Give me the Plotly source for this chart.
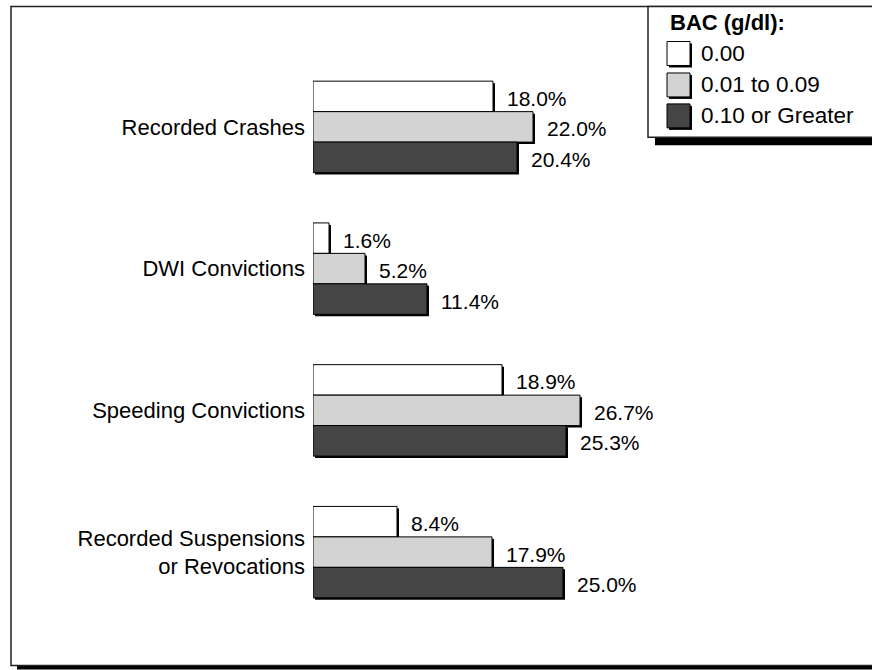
import plotly.graph_objects as go

# ---- data ----
categories = ["Recorded Crashes", "DWI Convictions", "Speeding Convictions",
              "Recorded Suspensions<br>or Revocations"]
series_names = ["0.00", "0.01 to 0.09", "0.10 or Greater"]
bac_000 = [18.0, 1.6, 18.9, 8.4]
bac_001_009 = [22.0, 5.2, 26.7, 17.9]
bac_010_plus = [20.4, 11.4, 25.3, 25.0]
legend_title = "BAC (g/dl):"

series_values = [bac_000, bac_001_009, bac_010_plus]
colors = ["#FFFFFF", "#D3D3D3", "#454545"]

FONT = "Liberation Sans, Arial, sans-serif"
W, H = 872, 670
ML, MR, MT, MB = 313, 9, 55.5, 46.5
XMAX = 55.0
plot_w = W - ML - MR
plot_h = H - MT - MB

bw = 0.215
offsets = [-1.5 * bw, -0.5 * bw, 0.5 * bw]
ypos = list(range(len(categories)))
sx = 2 * XMAX / plot_w          # 2px in x data units
sy = 2 * 4.0 / plot_h           # 2px in y data units

fig = go.Figure()

# shadows
for vals, off in zip(series_values, offsets):
    fig.add_trace(go.Bar(
        y=ypos, x=vals, base=sx, orientation="h",
        offset=off + sy, width=bw,
        marker=dict(color="#000000", line=dict(width=0)),
        showlegend=False, hoverinfo="skip"))

# bars
for name, vals, off, col in zip(series_names, series_values, offsets, colors):
    fig.add_trace(go.Bar(
        y=ypos, x=vals, orientation="h", name=name,
        offset=off, width=bw,
        marker=dict(color=col, line=dict(color="#000000", width=1)),
        showlegend=False))

annotations = []
for vals, off in zip(series_values, offsets):
    for i, v in enumerate(vals):
        annotations.append(dict(
            x=v, y=i + off + bw / 2, xref="x", yref="y",
            text=f"{v:.1f}%", showarrow=False, xanchor="left", yanchor="middle",
            xshift=12, yshift=-2, font=dict(size=21, color="black", family=FONT)))


def px(x):
    return (x - ML) / plot_w


def py(y):
    return (H - MB - y) / plot_h


shapes = []
# outer frame + shadow
shapes.append(dict(type="rect", xref="paper", yref="paper",
                   x0=px(17), x1=px(900), y0=py(666), y1=py(670),
                   fillcolor="black", line=dict(width=0), layer="below"))
shapes.append(dict(type="rect", xref="paper", yref="paper",
                   x0=px(11), x1=px(895), y0=py(666), y1=py(6),
                   fillcolor="rgba(0,0,0,0)", line=dict(color="#222", width=1.5), layer="below"))
# legend box + shadow
shapes.append(dict(type="rect", xref="paper", yref="paper",
                   x0=px(655), x1=px(900), y0=py(145), y1=py(137),
                   fillcolor="black", line=dict(width=0)))
shapes.append(dict(type="rect", xref="paper", yref="paper",
                   x0=px(648), x1=px(895), y0=py(137), y1=py(6),
                   fillcolor="white", line=dict(color="#222", width=1.5)))

item_centers = [53, 84.5, 115.5]
for name, col, yc in zip(series_names, colors, item_centers):
    shapes.append(dict(type="rect", xref="paper", yref="paper",
                       x0=px(669), x1=px(692), y0=py(yc + 14), y1=py(yc - 10),
                       fillcolor="black", line=dict(width=0)))
    shapes.append(dict(type="rect", xref="paper", yref="paper",
                       x0=px(667), x1=px(690), y0=py(yc + 12), y1=py(yc - 12),
                       fillcolor=col, line=dict(color="black", width=1)))
    annotations.append(dict(x=px(699), y=py(yc), xref="paper", yref="paper",
                            text=name, showarrow=False, xanchor="left", yanchor="middle",
                            font=dict(size=22.5, color="black", family=FONT)))

annotations.append(dict(x=px(668), y=py(22), xref="paper", yref="paper",
                        text=f"<b>{legend_title}</b>", showarrow=False,
                        xanchor="left", yanchor="middle",
                        font=dict(size=22, color="black", family=FONT)))

fig.update_layout(
    width=W, height=H,
    margin=dict(l=ML, r=MR, t=MT, b=MB, pad=0),
    paper_bgcolor="white", plot_bgcolor="white",
    barmode="overlay",
    showlegend=False,
    xaxis=dict(range=[0, XMAX], showgrid=False, zeroline=False, showline=False,
               showticklabels=False, ticks="", fixedrange=True),
    yaxis=dict(range=[3.5, -0.5], tickvals=ypos, ticktext=categories,
               showgrid=False, zeroline=False, showline=False, ticks="",
               ticklabelstandoff=7,
               tickfont=dict(size=22, color="black", family=FONT), fixedrange=True),
    shapes=shapes,
    annotations=annotations,
)

fig.write_html("out.html", config={"displayModeBar": False},
               post_script="document.body.style.margin='0';document.body.style.overflow='hidden';")
